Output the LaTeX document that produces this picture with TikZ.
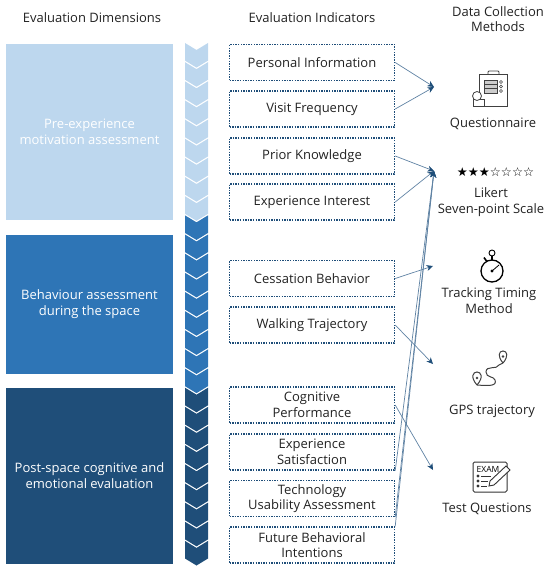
\documentclass[tikz,border=0pt]{standalone}
\usepackage{fontspec}
\setmainfont{Open Sans}
\newfontfamily\starfont{DejaVu Sans}
\usetikzlibrary{arrows.meta}
\definecolor{lightblue}{HTML}{BDD7EE}
\definecolor{midblue}{HTML}{2E75B6}
\definecolor{navyblue}{HTML}{1F4E79}
\definecolor{linkblue}{HTML}{5F82A3}
\definecolor{inktext}{HTML}{222222}
\tikzset{
  dimbox/.style={minimum width=167pt, inner sep=0pt, text=white, align=center, font=\fontsize{13}{16}\selectfont},
  indbox/.style={draw=navyblue, line width=1.4pt, dash pattern=on 1.4pt off 1.2pt, minimum width=165pt, minimum height=36pt, inner sep=0pt, text=inktext, align=center, font=\fontsize{13}{15.5}\selectfont},
  heading/.style={text=inktext, align=center, inner sep=0pt, font=\fontsize{13}{15.5}\selectfont},
  method/.style={text=inktext, align=center, inner sep=0pt, font=\fontsize{13}{16}\selectfont},
  link/.style={draw=linkblue, line width=0.7pt, -{Stealth[length=6.5pt,width=6pt,color=navyblue]}},
  icon/.style={draw=black!75, line width=0.8pt},
}
\begin{document}
\begin{tikzpicture}[x=1pt,y=-1pt]
    \useasboundingbox (0,0) rectangle (550,572);

    % Headings
    \node[heading] (hdim) at (92,18) {Evaluation Dimensions};
    \node[heading] (hind) at (312,18) {Evaluation Indicators};
    \node[heading] (hdata) at (498,19) {Data Collection\\Methods};

    % Dimensions
    \node[dimbox, fill=lightblue, minimum height=176pt] (pre) at (89.5,132) {Pre-experience\\motivation assessment};
    \node[dimbox, fill=midblue, minimum height=139pt] (during) at (89.5,304) {Behaviour assessment\\during the space};
    \node[dimbox, fill=navyblue, minimum height=176pt] (post) at (89.5,476) {Post-space cognitive and\\emotional evaluation};

    % Chevrons
    \foreach \k in {0,...,26} {
        \pgfmathsetmacro{\ytop}{43+19.15*\k}
        \ifnum\k<9 \def\chevcol{lightblue}\else\ifnum\k<18 \def\chevcol{midblue}\else\def\chevcol{navyblue}\fi\fi
        \fill[\chevcol] (185,\ytop) -- (196.5,\ytop+7) -- (208,\ytop) -- (208,\ytop+17.6) -- (196.5,\ytop+24.6) -- (185,\ytop+17.6) -- cycle;
    }

    % Indicators
    \node[indbox] (info) at (312,62.5) {Personal Information};
    \node[indbox] (visit) at (312,109) {Visit Frequency};
    \node[indbox] (prior) at (312,156) {Prior Knowledge};
    \node[indbox] (interest) at (312,202) {Experience Interest};
    \node[indbox] (cessation) at (312,278.5) {Cessation Behavior};
    \node[indbox] (walking) at (312,325) {Walking Trajectory};
    \node[indbox] (cognitive) at (312,405) {Cognitive\\Performance};
    \node[indbox] (satisfaction) at (312,452) {Experience\\Satisfaction};
    \node[indbox] (usability) at (312,498.5) {Technology\\Usability Assessment};
    \node[indbox] (future) at (312,545) {Future Behavioral\\Intentions};

    % Methods
    \node[method] (questionnaire) at (493,124) {Questionnaire};
    \node[font=\starfont\fontsize{12.3}{13}\selectfont, inner sep=0pt] (stars) at (495.5,172) {★★★☆☆☆☆};
    \node[method] (likert) at (491,202) {Likert\\Seven-point Scale};
    \node[method] (tracking) at (489,301) {Tracking Timing\\Method};
    \node[method] (gps) at (492,411) {GPS trajectory};
    \node[method] (test) at (487,509) {Test Questions};

    % Arrow ends
    \coordinate (qend) at (434,87);
    \coordinate (lend) at (434,171);
    \coordinate (tend) at (433,266);
    \coordinate (gend) at (433,364);
    \coordinate (xend) at (433,470);

    % Connections
    \draw[link] (info.east) -- (qend);
    \draw[link] (visit.east) -- (qend);
    \draw[link] (prior.east) -- (lend);
    \draw[link] (interest.east) -- (lend);
    \draw[link] (cessation.east) -- (tend);
    \draw[link] (walking.east) -- (gend);
    \draw[link] (cognitive.east) -- (xend);
    \draw[link] (satisfaction.south east) -- (lend);
    \draw[link] (usability.south east) -- (lend);
    \draw[link] (future.north east) -- (lend);

    % Questionnaire icon
    \draw[icon] (479,74) rectangle (507,106);
    \draw[icon, fill=white, rounded corners=1pt] (488,74) -- (488,71) -- (499,71) -- (499,74);
    \draw[icon, fill=black!20] (484,80) rectangle (497,93);
    \draw[icon] (484,84.3) -- (497,84.3) (484,88.6) -- (497,88.6);
    \draw[icon, line width=0.6pt] (501,82) circle (1.5) (501,86.5) circle (1.5) (501,91) circle (1.5);
    \draw[icon, fill=white] (473,99) rectangle (484,106);
    \draw[icon, fill=white] (477,96) circle (4.5);

    % Stopwatch icon
    \draw[black, line width=1.3pt] (492,271) circle (11);
    \draw[black, line width=0.9pt] (492,253) circle (3);
    \draw[black, line width=1.6pt] (492,256) -- (492,260) (484,257.5) -- (486.5,261);
    \draw[black, line width=0.8pt] (492,271) -- (499,265);
    \fill[black] (492,271) circle (1.7);

    % GPS icon
    \draw[icon, line width=1pt] (477,385) .. controls (490,386) and (497,386) .. (495,380) .. controls (494,376) and (486,378) .. (486,372) .. controls (486,365) and (497,370) .. (499,365) -- (503,363);
    \draw[icon, fill=white, line width=1pt] (477,385) .. controls (470,377) and (473,372) .. (477,372) .. controls (481,372) and (484,377) .. (477,385);
    \draw[icon, fill=white, line width=1pt] (503,363) .. controls (497,356) and (499,351) .. (503,351) .. controls (507,351) and (509,356) .. (503,363);
    \fill[black!75] (477,378) circle (1.4) (503,356.5) circle (1.3);

    % Exam icon
    \draw[black!80, line width=1pt, rounded corners=1.5pt] (473,462) rectangle (507,492);
    \node[inner sep=0pt, font=\fontsize{8.5}{9}\selectfont] (examword) at (488,469) {EXAM};
    \draw[black!80, line width=0.8pt] (478,476) circle (1) (478,481) circle (1) (478,486) circle (1);
    \draw[black!80, line width=0.8pt] (481,476) -- (491,476) (481,481) -- (488,481) (481,486) -- (487,486);
    \draw[black!80, line width=0.9pt, fill=white] (489,486) -- (490,481) -- (506,466) -- (510,470) -- (494,485) -- cycle;
\end{tikzpicture}
\end{document}
